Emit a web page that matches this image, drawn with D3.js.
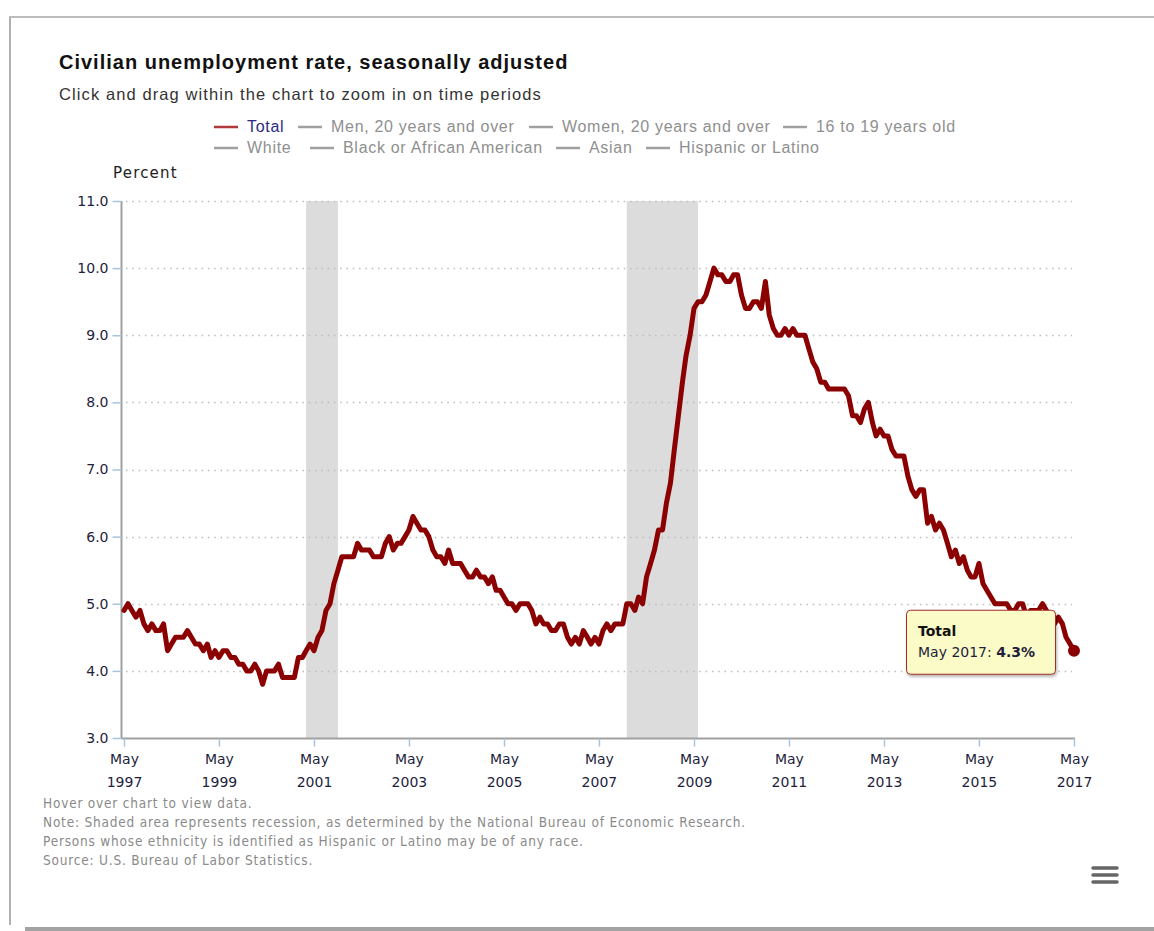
<!DOCTYPE html>
<html>
<head>
<meta charset="utf-8">
<script src="https://cdn.jsdelivr.net/npm/d3@7"></script>
<style>
  html, body { margin: 0; padding: 0; background: #fff; }
  svg { display: block; }
</style>
</head>
<body>
<svg id="chart" width="1154" height="931"></svg>
<script>
// ---------------- DATA ----------------
const startDate = new Date(1997, 4, 1); // May 1997
// Monthly civilian unemployment rate (%), May 1997 .. May 2017
const rates = [
  4.9, 5.0, 4.9, 4.8, 4.9, 4.7, 4.6, 4.7,                      // 1997 May-Dec
  4.6, 4.6, 4.7, 4.3, 4.4, 4.5, 4.5, 4.5, 4.6, 4.5, 4.4, 4.4,  // 1998
  4.3, 4.4, 4.2, 4.3, 4.2, 4.3, 4.3, 4.2, 4.2, 4.1, 4.1, 4.0,  // 1999
  4.0, 4.1, 4.0, 3.8, 4.0, 4.0, 4.0, 4.1, 3.9, 3.9, 3.9, 3.9,  // 2000
  4.2, 4.2, 4.3, 4.4, 4.3, 4.5, 4.6, 4.9, 5.0, 5.3, 5.5, 5.7,  // 2001
  5.7, 5.7, 5.7, 5.9, 5.8, 5.8, 5.8, 5.7, 5.7, 5.7, 5.9, 6.0,  // 2002
  5.8, 5.9, 5.9, 6.0, 6.1, 6.3, 6.2, 6.1, 6.1, 6.0, 5.8, 5.7,  // 2003
  5.7, 5.6, 5.8, 5.6, 5.6, 5.6, 5.5, 5.4, 5.4, 5.5, 5.4, 5.4,  // 2004
  5.3, 5.4, 5.2, 5.2, 5.1, 5.0, 5.0, 4.9, 5.0, 5.0, 5.0, 4.9,  // 2005
  4.7, 4.8, 4.7, 4.7, 4.6, 4.6, 4.7, 4.7, 4.5, 4.4, 4.5, 4.4,  // 2006
  4.6, 4.5, 4.4, 4.5, 4.4, 4.6, 4.7, 4.6, 4.7, 4.7, 4.7, 5.0,  // 2007
  5.0, 4.9, 5.1, 5.0, 5.4, 5.6, 5.8, 6.1, 6.1, 6.5, 6.8, 7.3,  // 2008
  7.8, 8.3, 8.7, 9.0, 9.4, 9.5, 9.5, 9.6, 9.8, 10.0, 9.9, 9.9, // 2009
  9.8, 9.8, 9.9, 9.9, 9.6, 9.4, 9.4, 9.5, 9.5, 9.4, 9.8, 9.3,  // 2010
  9.1, 9.0, 9.0, 9.1, 9.0, 9.1, 9.0, 9.0, 9.0, 8.8, 8.6, 8.5,  // 2011
  8.3, 8.3, 8.2, 8.2, 8.2, 8.2, 8.2, 8.1, 7.8, 7.8, 7.7, 7.9,  // 2012
  8.0, 7.7, 7.5, 7.6, 7.5, 7.5, 7.3, 7.2, 7.2, 7.2, 6.9, 6.7,  // 2013
  6.6, 6.7, 6.7, 6.2, 6.3, 6.1, 6.2, 6.1, 5.9, 5.7, 5.8, 5.6,  // 2014
  5.7, 5.5, 5.4, 5.4, 5.6, 5.3, 5.2, 5.1, 5.0, 5.0, 5.0, 5.0,  // 2015
  4.9, 4.9, 5.0, 5.0, 4.8, 4.9, 4.9, 4.9, 5.0, 4.9, 4.6, 4.7,  // 2016
  4.8, 4.7, 4.5, 4.4, 4.3                                      // 2017 Jan-May
];
const recessionStarts = ["2001-03", "2007-12"];
const recessionEnds   = ["2001-11", "2009-06"];
const yTicks = [3, 4, 5, 6, 7, 8, 9, 10, 11];
const xTickYears = [1997, 1999, 2001, 2003, 2005, 2007, 2009, 2011, 2013, 2015, 2017];
const legendRow1 = ["Total", "Men, 20 years and over", "Women, 20 years and over", "16 to 19 years old"];
const legendRow2 = ["White", "Black or African American", "Asian", "Hispanic or Latino"];
const notes = [
  "Hover over chart to view data.",
  "Note: Shaded area represents recession, as determined by the National Bureau of Economic Research.",
  "Persons whose ethnicity is identified as Hispanic or Latino may be of any race.",
  "Source: U.S. Bureau of Labor Statistics."
];

// ---------------- CHART ----------------
const svg = d3.select("#chart");
const data = rates.map((v, i) => ({ date: d3.timeMonth.offset(startDate, i), value: v }));
const parseYM = d3.timeParse("%Y-%m");

const x = d3.scaleTime()
  .domain([startDate, data[data.length - 1].date])
  .range([124, 1074]);
const y = d3.scaleLinear().domain([3, 11]).range([738, 201]);

// frame
svg.append("line").attr("x1", 9).attr("x2", 1154).attr("y1", 17).attr("y2", 17)
  .attr("stroke", "#bdbdbd").attr("stroke-width", 2);
svg.append("line").attr("x1", 10).attr("x2", 10).attr("y1", 17).attr("y2", 925)
  .attr("stroke", "#b0b0b0").attr("stroke-width", 2);
svg.append("rect").attr("x", 25).attr("y", 927).attr("width", 1129).attr("height", 4)
  .attr("fill", "#a3a3a3");

// title
svg.append("text").attr("x", 59).attr("y", 69)
  .attr("font-family", "'Liberation Sans', Arial, sans-serif")
  .attr("font-weight", "bold").attr("font-size", 20).attr("fill", "#111")
  .attr("letter-spacing", 1.0)
  .text("Civilian unemployment rate, seasonally adjusted");
svg.append("text").attr("x", 59).attr("y", 100)
  .attr("font-family", "'Liberation Sans', Arial, sans-serif")
  .attr("font-size", 16.5).attr("fill", "#333").attr("letter-spacing", 1.1)
  .text("Click and drag within the chart to zoom in on time periods");

// legend
const legendFont = "'Liberation Sans', Arial, sans-serif";
const row1X = [214, 298, 529, 783];
const row2X = [214, 310, 556, 646];
function drawLegend(items, xs, yBase, firstActive) {
  const g = svg.append("g");
  items.forEach((name, i) => {
    const active = firstActive && i === 0;
    g.append("line").attr("x1", xs[i]).attr("x2", xs[i] + 24)
      .attr("y1", yBase - 5).attr("y2", yBase - 5)
      .attr("stroke", active ? "#b03a3a" : "#a0a0a0").attr("stroke-width", 2.5);
    g.append("text").attr("x", xs[i] + 33).attr("y", yBase)
      .attr("font-family", legendFont).attr("font-size", 16)
      .attr("letter-spacing", 0.7)
      .attr("fill", active ? "#2b2b84" : "#8f8f8f")
      .text(name);
  });
}
drawLegend(legendRow1, row1X, 132, true);
drawLegend(legendRow2, row2X, 153, false);

// axis title
svg.append("text").attr("x", 113).attr("y", 178)
  .attr("font-family", "'DejaVu Sans', Verdana, sans-serif")
  .attr("font-size", 15).attr("fill", "#222").attr("letter-spacing", 1.2)
  .text("Percent");

// recession bands
svg.append("g").selectAll("rect")
  .data(recessionStarts.map((s, i) => [parseYM(s), parseYM(recessionEnds[i])]))
  .join("rect")
  .attr("x", d => x(d[0]))
  .attr("width", d => x(d[1]) - x(d[0]))
  .attr("y", y(11)).attr("height", y(3) - y(11))
  .attr("fill", "#dcdcdc");

// gridlines
svg.append("g").selectAll("line")
  .data(yTicks.filter(t => t > 3))
  .join("line")
  .attr("x1", 126).attr("x2", 1072)
  .attr("y1", d => Math.round(y(d)) + 0.5).attr("y2", d => Math.round(y(d)) + 0.5)
  .attr("stroke", "#bcbcbc").attr("stroke-width", 1.5)
  .attr("stroke-dasharray", "1.5,4.8");

// y axis
const yAxis = d3.axisLeft(y).tickValues(yTicks).tickFormat(d3.format(".1f"))
  .tickSize(9).tickPadding(4);
const gy = svg.append("g").attr("transform", "translate(121.5,0)").call(yAxis);
gy.select(".domain").attr("stroke", "#a0a0a0").attr("stroke-width", 2)
  .attr("d", `M0,${y(11)}V${y(3)}`);
gy.selectAll(".tick line").attr("stroke", "#a8c4dc").attr("stroke-width", 1.5);
gy.selectAll(".tick text")
  .attr("font-family", "'DejaVu Sans', Verdana, sans-serif")
  .attr("font-size", 14).attr("fill", "#1e1e3c");

// x axis
const xTickDates = xTickYears.map(yr => new Date(yr, 4, 1));
const xAxis = d3.axisBottom(x).tickValues(xTickDates).tickSize(8).tickFormat("");
const gx = svg.append("g").attr("transform", `translate(0,${y(3) + 0.5})`).call(xAxis);
gx.select(".domain").attr("stroke", "#a0a0a0").attr("stroke-width", 2)
  .attr("d", `M121.5,0H1075`);
gx.selectAll(".tick line").attr("stroke", "#a8c4dc").attr("stroke-width", 1.5);
gx.selectAll(".tick").each(function (d) {
  const t = d3.select(this).append("text")
    .attr("font-family", "'DejaVu Sans', Verdana, sans-serif")
    .attr("font-size", 14).attr("fill", "#1e1e3c")
    .attr("text-anchor", "middle");
  t.append("tspan").attr("x", 0).attr("y", 25).text(d3.timeFormat("%b")(d));
  t.append("tspan").attr("x", 0).attr("y", 48).text(d3.timeFormat("%Y")(d));
});

// line
const line = d3.line().x(d => x(d.date)).y(d => y(d.value));
svg.append("path").datum(data)
  .attr("d", line)
  .attr("fill", "none")
  .attr("stroke", "#8b0000").attr("stroke-width", 5)
  .attr("stroke-linejoin", "round").attr("stroke-linecap", "round");

const last = data[data.length - 1];
svg.append("circle").attr("cx", x(last.date)).attr("cy", y(last.value)).attr("r", 6)
  .attr("fill", "#8b0000");

// tooltip
const defs = svg.append("defs");
const f = defs.append("filter").attr("id", "shadow").attr("x", "-10%").attr("y", "-10%")
  .attr("width", "130%").attr("height", "140%");
f.append("feDropShadow").attr("dx", 1).attr("dy", 2).attr("stdDeviation", 1.5)
  .attr("flood-color", "#000").attr("flood-opacity", 0.3);
const tipX = x(last.date) - 168, tipY = y(last.value) - 41;
const tip = svg.append("g").attr("transform", `translate(${tipX},${tipY})`);
tip.append("rect").attr("x", 0.5).attr("y", 0.5).attr("width", 149).attr("height", 64)
  .attr("rx", 4).attr("fill", "#fbfbc7").attr("stroke", "#a52a2a").attr("stroke-width", 1)
  .attr("filter", "url(#shadow)");
tip.append("text").attr("x", 12).attr("y", 26)
  .attr("font-family", "'DejaVu Sans', Verdana, sans-serif")
  .attr("font-size", 14).attr("font-weight", "bold").attr("fill", "#111")
  .text("Total");
const tt = tip.append("text").attr("x", 12).attr("y", 47)
  .attr("font-family", "'DejaVu Sans', Verdana, sans-serif")
  .attr("font-size", 14).attr("fill", "#1e1e3c");
tt.append("tspan").text(d3.timeFormat("%b %Y")(last.date) + ": ");
tt.append("tspan").attr("font-weight", "bold").text(last.value.toFixed(1) + "%");

// notes
svg.append("g").selectAll("text").data(notes).join("text")
  .attr("x", 43).attr("y", (d, i) => 808 + i * 19)
  .attr("font-family", "'DejaVu Sans Condensed', 'DejaVu Sans', sans-serif")
  .attr("font-stretch", "condensed")
  .attr("font-size", 13.5).attr("fill", "#8a8a8a")
  .attr("letter-spacing", 0.8)
  .text(d => d);

// menu icon
svg.append("g").selectAll("line").data([0, 1, 2]).join("line")
  .attr("x1", 1093).attr("x2", 1117)
  .attr("y1", d => 868 + d * 7).attr("y2", d => 868 + d * 7)
  .attr("stroke", "#666").attr("stroke-width", 3.5).attr("stroke-linecap", "round");
</script>
</body>
</html>
